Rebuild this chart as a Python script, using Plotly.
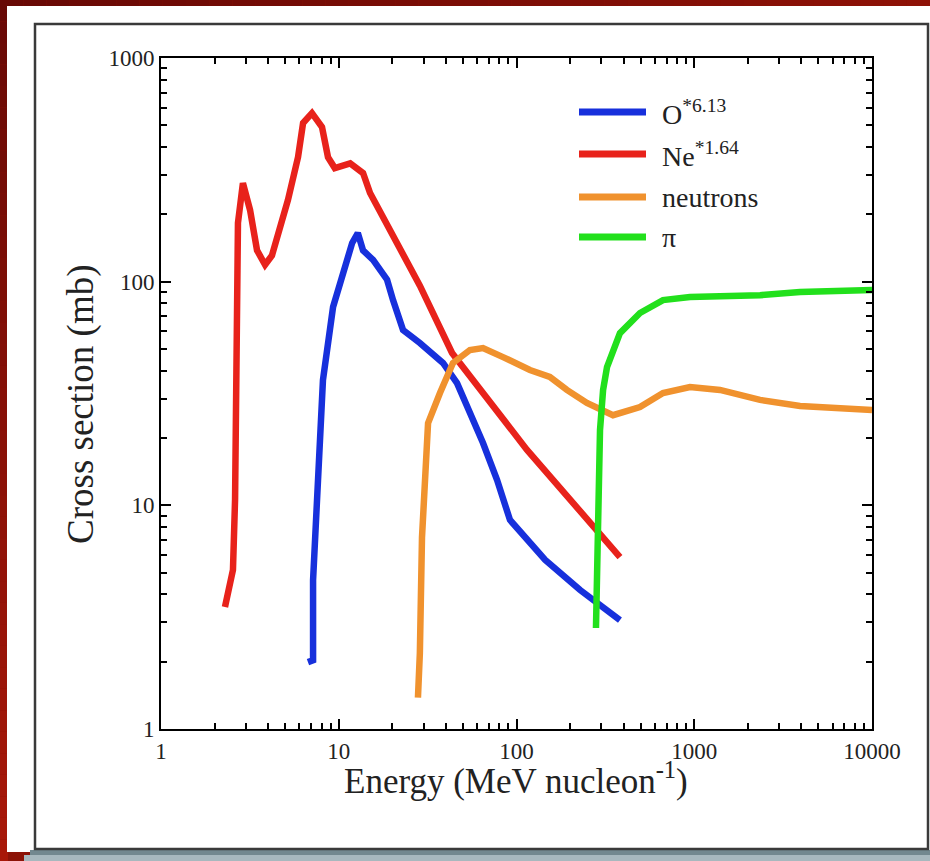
import plotly.graph_objects as go

# ---- cross-section curves (energy in MeV/nucleon, cross section in mb) ----
ne_energy = [2.29, 2.44, 2.54, 2.61, 2.64, 2.71, 2.89, 3.17, 3.47, 3.85, 4.21, 4.67,
             5.18, 5.9, 6.3, 7.07, 8.05, 8.7, 9.5, 11.6, 13.7, 15.0, 17.7, 22.1,
             28.6, 43.4, 114.6, 382]
ne_sigma = [3.51, 4.63, 5.14, 10.6, 31.1, 183, 276, 209, 138, 119, 131, 170,
            232, 360, 512, 567, 491, 360, 322, 338, 306, 249, 194, 138,
            96, 48, 17.7, 5.87]

o_energy = [6.71, 7.17, 7.17, 7.55, 7.84, 8.15, 9.29, 10.6, 11.9, 12.8, 13.7, 15.6,
            18.7, 20.2, 23.0, 28.6, 38.6, 46.3, 54.7, 64.8, 77.7, 91.9, 145, 228, 382]
o_sigma = [1.99, 2.03, 4.63, 10.2, 22.4, 36.3, 77, 113, 149, 165, 138, 125,
           102, 82.7, 60.8, 53.2, 43.3, 35.2, 25.9, 19.0, 13.0, 8.6, 5.7, 4.18, 3.07]

n_energy = [27.9, 28.6, 29.4, 30.6, 31.8, 37.1, 43.9, 54.7, 64.8, 84, 119, 154,
            192, 249, 349, 495, 667, 946, 1396, 2344, 3936, 10000]
n_sigma = [1.38, 2.19, 7.2, 15.5, 23.3, 31.8, 43.3, 49.5, 50.5, 46, 40.3, 37.5,
           32.8, 28.7, 25.3, 27.5, 31.8, 33.8, 32.8, 29.6, 27.8, 26.7]

pi_energy = [280, 287, 295, 307, 323, 382, 495, 667, 946, 2344, 3936, 10000]
pi_sigma = [2.83, 10.6, 21.7, 32.8, 41.5, 58.9, 72.4, 82.7, 85.3, 87, 89.8, 91.7]

series_names = ["O<sup>*6.13</sup>", "Ne<sup>*1.64</sup>", "neutrons", "π"]
series_colors = ["#1730dc", "#e8221b", "#f0922e", "#22e01c"]

# ---- page geometry (pixels) ----
W, H = 930, 861
L, R, T, B = 161, 872, 58, 729
FONT = "Liberation Serif, Times New Roman, serif"


def px(x):
    return (x - L) / (R - L)


def py(y):
    return (B - y) / (B - T)


def mix(c1, c2, t):
    return "rgb(%d,%d,%d)" % tuple(round(a + (b - a) * t) for a, b in zip(c1, c2))


fig = go.Figure()

curves = [(o_energy, o_sigma), (ne_energy, ne_sigma), (n_energy, n_sigma), (pi_energy, pi_sigma)]
for (xs, ys), name, col in zip(curves, series_names, series_colors):
    fig.add_trace(go.Scatter(x=xs, y=ys, mode="lines", name=name,
                             line=dict(color=col, width=6.5), showlegend=False))

shapes = []
# dark red slide background: top and left strips with a soft gradient
dark, top_right, bot_left = (104, 9, 5), (142, 17, 6), (168, 24, 9)
n = 40
for i in range(n):
    shapes.append(dict(type="rect", xref="paper", yref="paper", layer="below",
                       x0=px(W * i / n), x1=px(W * (i + 1) / n), y0=py(0), y1=py(7),
                       fillcolor=mix(dark, top_right, i / (n - 1)), line_width=0))
    shapes.append(dict(type="rect", xref="paper", yref="paper", layer="below",
                       x0=px(0), x1=px(8), y0=py(H * i / n), y1=py(H * (i + 1) / n),
                       fillcolor=mix(dark, bot_left, i / (n - 1)), line_width=0))
# white card
shapes.append(dict(type="rect", xref="paper", yref="paper", layer="below",
                   x0=px(7), x1=px(W + 2), y0=py(6), y1=py(852),
                   fillcolor="white", line_width=0))
# bluish shadow under the card
shapes.append(dict(type="rect", xref="paper", yref="paper", layer="below",
                   x0=px(30), x1=px(W + 2), y0=py(850), y1=py(855),
                   fillcolor="#72888f", line_width=0))
shapes.append(dict(type="rect", xref="paper", yref="paper", layer="below",
                   x0=px(24), x1=px(W + 2), y0=py(855), y1=py(H + 2),
                   fillcolor="#a7b8be", line_width=0))
# framed figure border
shapes.append(dict(type="rect", xref="paper", yref="paper", layer="below",
                   x0=px(35), x1=px(928), y0=py(24), y1=py(849),
                   fillcolor="rgba(0,0,0,0)", line=dict(color="#3a3a3a", width=2.5)))

annotations = []
# legend
leg_y = [112, 154, 197, 237]
for yy, name, col in zip(leg_y, series_names, series_colors):
    shapes.append(dict(type="line", xref="paper", yref="paper",
                       x0=px(579), x1=px(646), y0=py(yy), y1=py(yy),
                       line=dict(color=col, width=7)))
    annotations.append(dict(xref="paper", yref="paper", x=px(660), y=py(yy),
                            xanchor="left", yanchor="middle", showarrow=False,
                            text=name, font=dict(family=FONT, size=28, color="#222")))

# axis titles
annotations.append(dict(xref="paper", yref="paper", x=px(516), y=py(778),
                        xanchor="center", yanchor="middle", showarrow=False,
                        text="Energy (MeV nucleon<sup>-1</sup>)",
                        font=dict(family=FONT, size=35, color="#222")))
annotations.append(dict(xref="paper", yref="paper", x=px(81), y=py(404),
                        xanchor="center", yanchor="middle", showarrow=False,
                        textangle=-90, text="Cross section (mb)",
                        font=dict(family=FONT, size=37, color="#222")))

axis_common = dict(type="log", tickmode="linear", tick0=0, dtick=1,
                   ticks="inside", ticklen=10, tickwidth=2, tickcolor="black",
                   showline=True, linecolor="black", linewidth=2, mirror="ticks",
                   showgrid=False, zeroline=False, exponentformat="none",
                   tickformat="d",
                   tickfont=dict(family=FONT, size=23, color="#222"),
                   minor=dict(ticks="inside", ticklen=6, tickwidth=1.5,
                              tickcolor="black", dtick="D1", showgrid=False))

fig.update_layout(
    width=W, height=H,
    margin=dict(l=L, r=W - R, t=T, b=H - B, pad=0),
    paper_bgcolor="#8c1307",
    plot_bgcolor="rgba(0,0,0,0)",
    xaxis=dict(range=[0, 4], **axis_common),
    yaxis=dict(range=[0, 3], **axis_common),
    shapes=shapes,
    annotations=annotations,
    showlegend=False,
    font=dict(family=FONT, color="#222"),
)

fig.write_html("out.html")
